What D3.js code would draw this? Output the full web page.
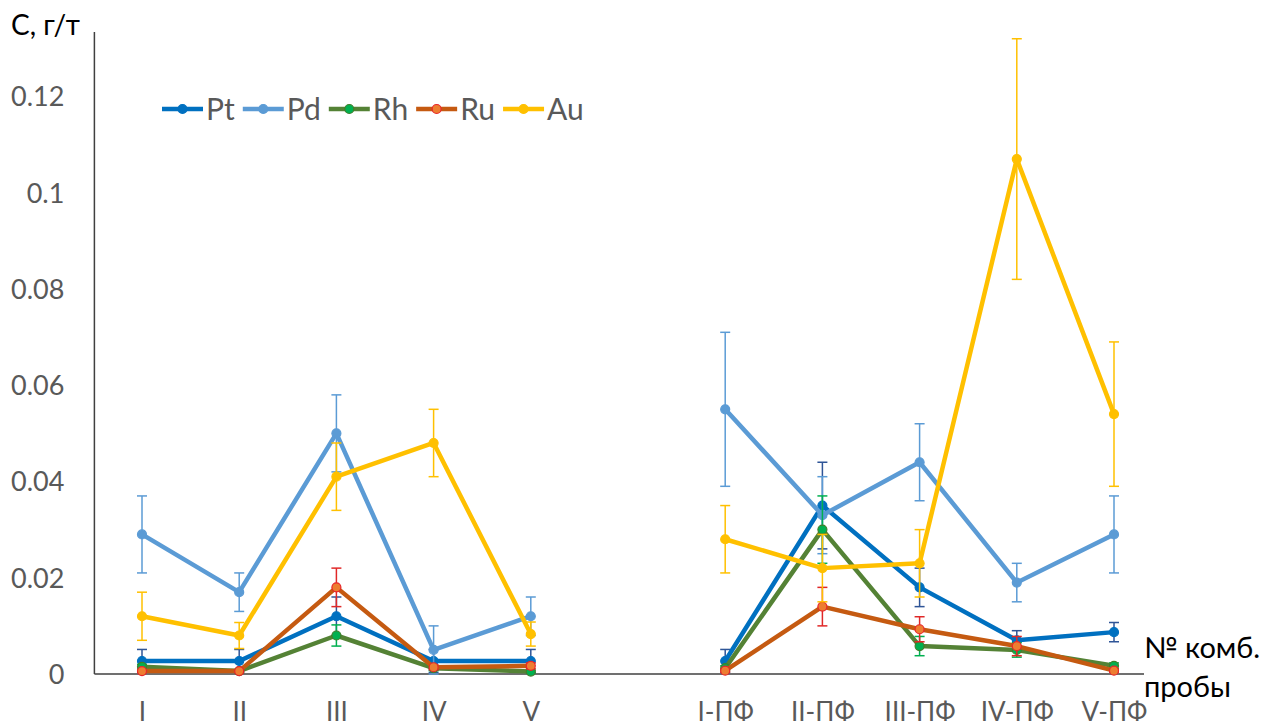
<!DOCTYPE html>
<html><head><meta charset="utf-8">
<script src="https://cdn.jsdelivr.net/npm/d3@7"></script>
<style>
html,body{margin:0;padding:0;background:#fff;overflow:hidden}
svg{display:block;font-family:Lato,"Open Sans",sans-serif}
</style></head>
<body><svg id="c" width="1278" height="724"></svg>
<script>
// ---- data ----
const categories = ['I','II','III','IV','V','','I-ПФ','II-ПФ','III-ПФ','IV-ПФ','V-ПФ'];
const seriesNames = ['Pt','Pd','Rh','Ru','Au'];
const pt    = [0.0027,0.0027,0.012,0.0027,0.0027,null,0.0027,0.035,0.018,0.007,0.0087];
const ptErr = [0.0024,0.0024,0.004,0.0024,0.0024,null,0.0024,0.009,0.004,0.002,0.002];
const pd    = [0.029,0.017,0.050,0.005,0.012,null,0.055,0.033,0.044,0.019,0.029];
const pdErr = [0.008,0.004,0.008,0.005,0.004,null,0.016,0.008,0.008,0.004,0.008];
const rh    = [0.0015,0.0006,0.008,0.0012,0.0005,null,0.0012,0.030,0.0058,0.005,0.0017];
const rhErr = [0.0005,0.0003,0.0022,0.0005,0.0003,null,0.0005,0.007,0.002,0.0015,0.0006];
const ru    = [0.0006,0.0006,0.018,0.0014,0.0017,null,0.0007,0.014,0.0093,0.0058,0.0007];
const ruErr = [0.0003,0.0003,0.004,0.0005,0.0006,null,0.0003,0.004,0.0026,0.002,0.0003];
const au    = [0.012,0.008,0.041,0.048,0.0083,null,0.028,0.022,0.023,0.107,0.054];
const auErr = [0.005,0.0027,0.007,0.007,0.0025,null,0.007,0.007,0.007,0.025,0.015];
const yTickValues = [0,0.02,0.04,0.06,0.08,0.1,0.12];
const yTickLabels = ['0','0.02','0.04','0.06','0.08','0.1','0.12'];
const yTitle = 'С, г/т';
const xTitle1 = '№ комб.';
const xTitle2 = 'пробы';

// ---- styles ----
const styles = {
  Pt:{line:'#0070c0', fill:'#0070c0', stroke:'#0070c0', err:'#2f5597'},
  Pd:{line:'#5b9bd5', fill:'#5b9bd5', stroke:'#5b9bd5', err:'#5b9bd5'},
  Rh:{line:'#548235', fill:'#00b050', stroke:'#3f7f2a', err:'#00b050'},
  Ru:{line:'#c55a11', fill:'#ed7d31', stroke:'#e8262a', err:'#e02828'},
  Au:{line:'#ffc000', fill:'#ffc000', stroke:'#ffc000', err:'#ffc000'}
};
const values = {Pt:pt, Pd:pd, Rh:rh, Ru:ru, Au:au};
const errs = {Pt:ptErr, Pd:pdErr, Rh:rhErr, Ru:ruErr, Au:auErr};
const FONT = 'Lato,"Open Sans",sans-serif';

const svg = d3.select('#c');
const x = d3.scalePoint().domain(categories).range([142, 1114]);
const y = d3.scaleLinear().domain([0, 0.1334]).range([674, 32]);
const step = x.step();
const xLeft = x(categories[0]) - step/2 + 1;
const xRight = 1144;

// axes lines
svg.append('line').attr('x1', xLeft).attr('x2', xLeft).attr('y1', y(0)).attr('y2', y.range()[1])
  .attr('stroke', '#404040').attr('stroke-width', 1.5);
svg.append('line').attr('x1', xLeft).attr('x2', xRight).attr('y1', y(0)).attr('y2', y(0))
  .attr('stroke', '#404040').attr('stroke-width', 1.5);

// y axis labels
const yAxis = d3.axisLeft(y).tickValues(yTickValues).tickFormat((d,i)=>yTickLabels[i]).tickSize(0).tickPadding(30);
const ya = svg.append('g').attr('transform', `translate(${xLeft},0)`).call(yAxis);
ya.select('.domain').remove();
ya.selectAll('text').attr('fill', '#595959').style('font-size', '27px').style('font-family',FONT).attr('dy','0.35em');

// x axis labels
const xAxis = d3.axisBottom(x).tickSize(0).tickPadding(47);
const xa = svg.append('g').attr('transform', `translate(0,${y(0)})`).call(xAxis);
xa.select('.domain').remove();
xa.selectAll('text').attr('fill', '#595959').style('font-size', '26px').style('font-family',FONT).attr('dy','0');

// titles
svg.append('text').attr('x', 11).attr('y', 35).text(yTitle).attr('fill','#000').style('font-size','28px');
svg.append('text').attr('x', xRight).attr('y', 658).text(xTitle1).attr('fill','#000').style('font-size','29px');
svg.append('text').attr('x', xRight).attr('y', 697).text(xTitle2).attr('fill','#000').style('font-size','29px');

// series
const line = d3.line().defined(d => d.v != null).x(d => x(d.c)).y(d => y(d.v));
seriesNames.forEach(name => {
  const st = styles[name];
  const data = categories.map((c,i) => ({c, v: values[name][i], e: errs[name][i]}));
  const valid = data.filter(d => d.v != null);
  const g = svg.append('g');
  const eg = g.selectAll('g.err').data(valid).join('g').attr('stroke', st.err).attr('stroke-width', 1.5);
  eg.append('line').attr('x1', d=>x(d.c)).attr('x2', d=>x(d.c)).attr('y1', d=>y(Math.max(0,d.v-d.e))).attr('y2', d=>y(d.v+d.e));
  eg.append('line').attr('x1', d=>x(d.c)-5).attr('x2', d=>x(d.c)+5).attr('y1', d=>y(d.v+d.e)).attr('y2', d=>y(d.v+d.e));
  eg.append('line').attr('x1', d=>x(d.c)-5).attr('x2', d=>x(d.c)+5).attr('y1', d=>y(Math.max(0,d.v-d.e))).attr('y2', d=>y(Math.max(0,d.v-d.e)));
  g.append('path').datum(data).attr('d', line).attr('fill','none').attr('stroke', st.line)
    .attr('stroke-width', 4.5).attr('stroke-linejoin','round').attr('stroke-linecap','round');
  g.selectAll('circle').data(valid).join('circle').attr('cx', d=>x(d.c)).attr('cy', d=>y(d.v))
    .attr('r', 4.5).attr('fill', st.fill).attr('stroke', st.stroke).attr('stroke-width', 1.2);
});

// legend
let lx = 162;
const ly = 109;
seriesNames.forEach(name => {
  const st = styles[name];
  const lg = svg.append('g');
  lg.append('line').attr('x1', lx).attr('x2', lx+41).attr('y1', ly).attr('y2', ly).attr('stroke', st.line).attr('stroke-width', 4.5);
  lg.append('circle').attr('cx', lx+20.5).attr('cy', ly).attr('r', 4.5).attr('fill', st.fill).attr('stroke', st.stroke).attr('stroke-width',1.2);
  const t = lg.append('text').attr('x', lx+44).attr('y', ly).attr('dy','0.36em').text(name)
    .attr('fill','#595959').style('font-size','30px');
  lx = lx + 44 + t.node().getComputedTextLength() + 8;
});
</script></body></html>
